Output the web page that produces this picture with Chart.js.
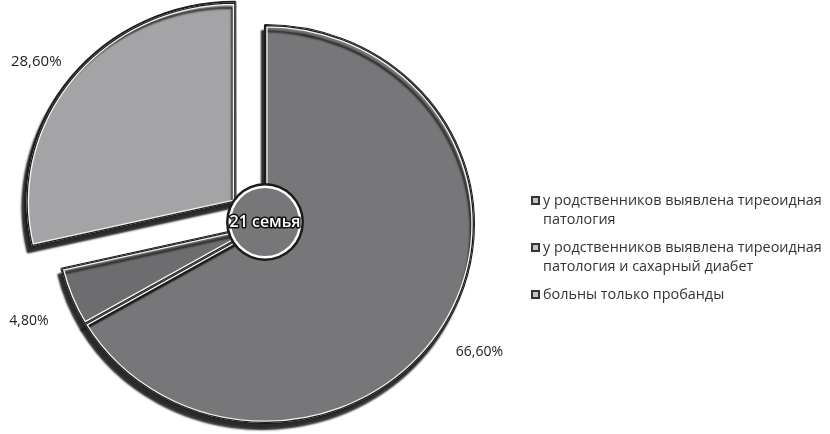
<!DOCTYPE html>
<html>
<head>
<meta charset="utf-8">
<script src="https://cdn.jsdelivr.net/npm/chart.js@4/dist/chart.umd.min.js"></script>
<style>
  html, body { margin: 0; padding: 0; background: #fff; }
  #wrap { position: relative; width: 830px; height: 434px; }
  #legend { position: absolute; left: 531px; top: 190px; width: 299px;
    font-family: "Open Sans", sans-serif; font-size: 14.4px; color: #333; line-height: 19px; }
  .item { position: relative; padding-left: 12px; margin-bottom: 9px; }
  .box { position: absolute; left: 0; top: 6px; width: 5px; height: 5px; border: 2px solid #333; background: #c4c4c4; }
</style>
</head>
<body>
<div id="wrap">
  <canvas id="pie" width="830" height="434"></canvas>
  <div id="legend"></div>
</div>
<script>
const categories = [
  ' у родственников выявлена тиреоидная патология',
  'у родственников выявлена тиреоидная патология и сахарный диабет',
  'больны только пробанды'
];
const shares = [66.6, 4.8, 28.6];
const pctLabels = ['66,60%', '4,80%', '28,60%'];
const centerText = '21 семья';
const colors = ['#77777a', '#6d6d70', '#a4a4a6'];

// legend in html so long labels can wrap
const legendEl = document.getElementById('legend');
categories.forEach(c => {
  const d = document.createElement('div');
  d.className = 'item';
  d.innerHTML = '<span class="box"></span>' + c;
  legendEl.appendChild(d);
});

// chart.js moves an exploded arc by offset / 4
const shift = arc => (arc.options.offset || 0) / 4;
// the original pie is slightly wider than tall
const stretchX = 1.05;

function stretch(chart, ctx) {
  const a = chart.getDatasetMeta(0).data[0];
  ctx.translate(a.x, a.y);
  ctx.scale(stretchX, 1);
  ctx.translate(-a.x, -a.y);
}

const shadowPlugin = {
  id: 'shadow',
  beforeDatasetsDraw(chart) {
    const ctx = chart.ctx;
    ctx.save();
    stretch(chart, ctx);
    ctx.shadowColor = 'rgba(20,20,20,0.9)';
    ctx.shadowBlur = 2;
    ctx.shadowOffsetX = -3;
    ctx.shadowOffsetY = 6;
  },
  afterDatasetsDraw(chart) {
    chart.ctx.restore();
  }
};

const decorPlugin = {
  id: 'decor',
  afterDatasetsDraw(chart) {
    // thin white highlight just inside each slice's black edge
    const ctx = chart.ctx;
    chart.getDatasetMeta(0).data.forEach(arc => {
      const p = arc.getProps(['x', 'y', 'startAngle', 'endAngle', 'outerRadius'], true);
      const mid = (p.startAngle + p.endAngle) / 2;
      const s = shift(arc);
      ctx.save();
      stretch(chart, ctx);
      ctx.translate(Math.cos(mid) * s, Math.sin(mid) * s);
      ctx.beginPath();
      ctx.moveTo(p.x, p.y);
      ctx.arc(p.x, p.y, p.outerRadius, p.startAngle, p.endAngle);
      ctx.closePath();
      ctx.clip();
      ctx.lineJoin = 'miter';
      ctx.strokeStyle = '#f4f4f4';
      ctx.lineWidth = 5;
      ctx.stroke();
      ctx.strokeStyle = '#1c1c1c';
      ctx.lineWidth = 2.4;
      ctx.stroke();
      ctx.restore();
    });
  },
  afterDraw(chart) {
    const ctx = chart.ctx;
    const arcs = chart.getDatasetMeta(0).data;
    ctx.save();
    ctx.fillStyle = '#222';
    ctx.textAlign = 'center';
    ctx.textBaseline = 'middle';
    arcs.forEach((arc, i) => {
      const p = arc.getProps(['x', 'y', 'startAngle', 'endAngle', 'outerRadius'], true);
      const mid = (p.startAngle + p.endAngle) / 2;
      const r = p.outerRadius * 1.2 + shift(arc);
      ctx.font = (i === 2 ? '15px' : '14px') + ' "Open Sans", sans-serif';
      ctx.fillText(pctLabels[i], p.x + Math.cos(mid) * r * stretchX - 3, p.y + Math.sin(mid) * r + 9);
    });

    // center badge
    const a = arcs[0];
    const cx = a.x, cy = a.y - 2;
    ctx.beginPath();
    ctx.arc(cx, cy, 39, 0, Math.PI * 2);
    ctx.fillStyle = '#1c1c1c';
    ctx.fill();
    ctx.beginPath();
    ctx.arc(cx, cy, 36.5, 0, Math.PI * 2);
    ctx.fillStyle = '#fff';
    ctx.fill();
    ctx.beginPath();
    ctx.arc(cx, cy, 34, 0, Math.PI * 2);
    ctx.fillStyle = colors[0];
    ctx.fill();
    ctx.font = '600 16px "Open Sans", sans-serif';
    ctx.lineWidth = 3;
    ctx.strokeStyle = '#111';
    ctx.lineJoin = 'round';
    ctx.strokeText(centerText, cx, cy);
    ctx.fillStyle = '#fff';
    ctx.fillText(centerText, cx, cy);
    ctx.restore();
  }
};

new Chart(document.getElementById('pie'), {
  type: 'pie',
  data: {
    labels: categories,
    datasets: [{
      data: shares,
      backgroundColor: colors,
      borderColor: '#1c1c1c',
      borderWidth: 2,
      offset: [0, 0, 144],
      radius: 199
    }]
  },
  options: {
    responsive: false,
    animation: false,
    layout: { padding: { top: 14, bottom: 0, left: 0, right: 300 } },
    plugins: {
      legend: { display: false },
      tooltip: { enabled: false }
    }
  },
  plugins: [shadowPlugin, decorPlugin]
});
</script>
</body>
</html>
